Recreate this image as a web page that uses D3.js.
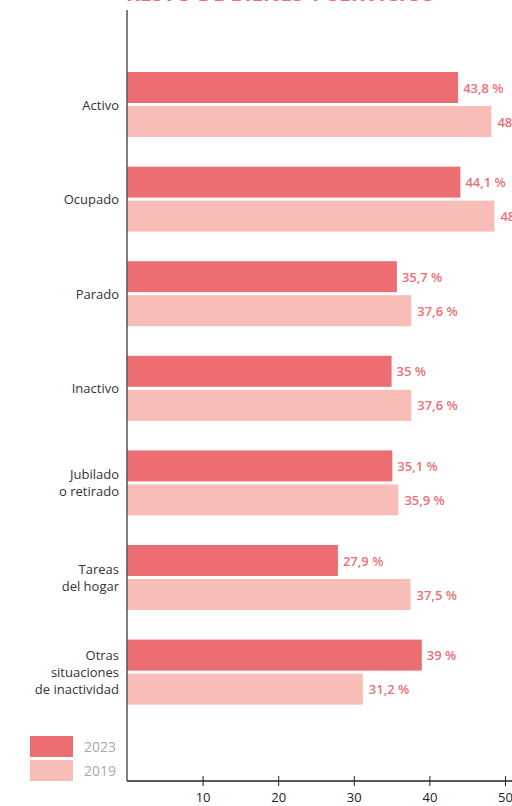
<!DOCTYPE html>
<html>
<head>
<meta charset="utf-8">
<script src="https://cdn.jsdelivr.net/npm/d3@7"></script>
<style>
  body { margin: 0; background: #fff; }
  svg { display: block; font-family: "Open Sans", "Noto Sans", sans-serif; }
</style>
</head>
<body>
<div id="chart"></div>
<script>
// data
const categories = [['Activo'], ['Ocupado'], ['Parado'], ['Inactivo'],
  ['Jubilado', 'o retirado'], ['Tareas', 'del hogar'],
  ['Otras', 'situaciones', 'de inactividad']]
const values2023 = [43.8, 44.1, 35.7, 35, 35.1, 27.9, 39]
const values2019 = [48.2, 48.6, 37.6, 37.6, 35.9, 37.5, 31.2]
const years = ['2023', '2019']
const tickValues = [10, 20, 30, 40, 50]

const chart = { width: 512, height: 806 }
const colors = { '2023': '#ec6e73', '2019': '#f7bdb6' }
const labelColor = '#ec7077'

const x0 = 127
const axisY = 781

const xScale = d3.scaleLinear().domain([0, 50]).range([x0, 505])

const svg = d3.select('#chart').append('svg')
  .attr('width', chart.width).attr('height', chart.height)

// title, cut off at the top in the original too
svg.append('text')
  .attr('x', 280).attr('y', 1)
  .attr('text-anchor', 'middle')
  .attr('font-size', 21).attr('font-weight', 'bold')
  .attr('fill', '#ec6e73')
  .text('RESTO DE BIENES Y SERVICIOS')

const barH = 31
const step = 94.6
const rows = categories.map((c, i) => ({
  cat: c, v23: values2023[i], v19: values2019[i], top: 72 + i * step
}))

const g = svg.selectAll('g.row').data(rows).join('g').attr('class', 'row')

g.append('rect')
  .attr('x', x0).attr('y', d => d.top)
  .attr('width', d => xScale(d.v23) - x0).attr('height', barH)
  .attr('fill', colors['2023'])

g.append('rect')
  .attr('x', x0).attr('y', d => d.top + barH + 3)
  .attr('width', d => xScale(d.v19) - x0).attr('height', barH)
  .attr('fill', colors['2019'])

const fmt = v => String(v).replace('.', ',') + ' %'

g.append('text')
  .attr('x', d => xScale(d.v23) + 5).attr('y', d => d.top + barH / 2 + 5)
  .attr('font-size', 13).attr('font-weight', 600).attr('fill', labelColor)
  .text(d => fmt(d.v23))

g.append('text')
  .attr('x', d => xScale(d.v19) + 6).attr('y', d => d.top + barH * 1.5 + 3 + 5)
  .attr('font-size', 13).attr('font-weight', 600).attr('fill', labelColor)
  .text(d => fmt(d.v19))

// category labels
g.append('text')
  .attr('text-anchor', 'end')
  .attr('font-size', 13).attr('fill', '#333')
  .each(function(d) {
    const n = d.cat.length
    const mid = d.top + barH + 1.5
    d3.select(this).selectAll('tspan').data(d.cat).join('tspan')
      .attr('x', 119)
      .attr('y', (t, j) => mid + 5 + (j - (n - 1) / 2) * 17)
      .text(t => t)
  })

// axes
svg.append('line')
  .attr('x1', x0).attr('x2', x0).attr('y1', 10).attr('y2', axisY)
  .attr('stroke', '#555').attr('stroke-width', 1.5)

const xAxis = d3.axisBottom(xScale).tickValues(tickValues).tickSize(5).tickSizeOuter(0)
const bottomAxis = svg.append('g')
  .attr('transform', `translate(0, ${axisY})`)
  .call(xAxis)
bottomAxis.select('.domain').attr('d', `M${x0},0H${chart.width}`).attr('stroke', '#222').attr('stroke-width', 1.3)
bottomAxis.selectAll('.tick line').attr('y1', -5).attr('y2', 5).attr('stroke', '#222')
bottomAxis.selectAll('.tick text')
  .attr('y', 12).attr('font-size', 13).attr('fill', '#222')
  .attr('font-family', '"Open Sans", "Noto Sans", sans-serif')

// legend
const leg = svg.selectAll('g.leg').data(years).join('g').attr('class', 'leg')
  .attr('transform', (d, i) => `translate(30, ${736 + i * 24})`)
leg.append('rect').attr('width', 43).attr('height', 21).attr('fill', d => colors[d])
leg.append('text').attr('x', 54).attr('y', 16)
  .attr('font-size', 14).attr('fill', '#aaa').text(d => d)
</script>
</body>
</html>
